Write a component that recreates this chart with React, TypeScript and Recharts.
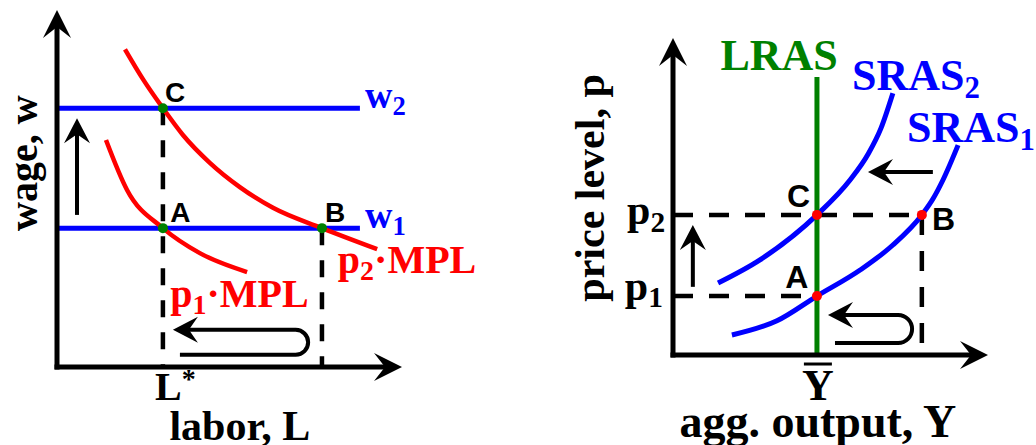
import React from 'react';
import { ComposedChart, XAxis, YAxis, Line, Scatter, ReferenceLine, ReferenceArea, ReferenceDot } from 'recharts';

const RED = '#ff0000';
const BLUE = '#0000ff';
const GREEN = '#008000';
const SERIF = '"Liberation Serif", "Times New Roman", serif';
const SANS = '"Liberation Sans", Arial, sans-serif';

// ---------- labor market (left panel) ----------
const wageLevels = [
  { name: 'w1', w: 3.89 },
  { name: 'w2', w: 7.25 },
];
const wageLineEnd = 8.78;
const laborLevels = [
  { name: 'L*', l: 3.07, top: 7.25 },
  { name: 'B', l: 7.68, top: 3.89 },
];
const mplP1 = [
  { x: 1.42, y: 6.36 },
  { x: 2.03, y: 4.96 },
  { x: 3.07, y: 3.89 },
  { x: 4.14, y: 3.19 },
  { x: 5.51, y: 2.66 },
];
const mplP2 = [
  { x: 1.97, y: 8.9 },
  { x: 2.5, y: 8.05 },
  { x: 3.07, y: 7.25 },
  { x: 3.65, y: 6.5 },
  { x: 4.43, y: 5.72 },
  { x: 5.3, y: 5.04 },
  { x: 6.26, y: 4.46 },
  { x: 7.68, y: 3.89 },
  { x: 9.28, y: 3.3 },
];
const laborPoints = [
  { x: 3.07, y: 7.25 },
  { x: 3.07, y: 3.89 },
  { x: 7.68, y: 3.89 },
];
const laborArrows = [{ from: { x: 0.58, y: 4.26 }, to: { x: 0.58, y: 6.97 } }];
const laborUturn = { x1: 3.36, x2: 7.28, y1: 0.34, y2: 1.04 };

// ---------- aggregate supply (right panel) ----------
const priceLevels = [
  { name: 'p1', p: 1.86, end: 4.57 },
  { name: 'p2', p: 4.42, end: 7.9 },
];
const outputNatural = 4.57;
const outputB = 7.9;
const lrasTop = 8.77;
const sras1 = [
  { x: 1.87, y: 0.63 },
  { x: 3.3, y: 1.08 },
  { x: 4.57, y: 1.86 },
  { x: 5.94, y: 2.68 },
  { x: 6.98, y: 3.47 },
  { x: 7.9, y: 4.42 },
  { x: 8.25, y: 4.92 },
  { x: 8.57, y: 5.52 },
  { x: 9.05, y: 6.62 },
];
const sras2 = [
  { x: 1.43, y: 2.27 },
  { x: 2.76, y: 3.0 },
  { x: 4.57, y: 4.42 },
  { x: 5.62, y: 5.52 },
  { x: 6.2, y: 6.35 },
  { x: 6.6, y: 7.15 },
  { x: 6.98, y: 8.26 },
];
const asPoints = [
  { x: 4.57, y: 1.86 },
  { x: 7.9, y: 4.42 },
  { x: 4.57, y: 4.42 },
];
const asArrows = [
  { from: { x: 8.25, y: 5.77 }, to: { x: 6.19, y: 5.77 } },
  { from: { x: 0.63, y: 2.15 }, to: { x: 0.63, y: 4.1 } },
];
const asUturn = { x1: 4.92, x2: 7.59, y1: 0.38, y2: 1.26 };

type Lbl = {
  x: number;
  y: number;
  text: string;
  sub?: string;
  tail?: string;
  sup?: string;
  color: string;
  size: number;
  sans?: boolean;
  anchor: 'start' | 'middle' | 'end';
  rotate?: boolean;
  bar?: boolean;
};

const laborLabels: Lbl[] = [
  { x: 3.13, y: 7.42, text: 'C', color: '#000', size: 28, sans: true, anchor: 'start' },
  { x: 3.28, y: 4.06, text: 'A', color: '#000', size: 28, sans: true, anchor: 'start' },
  { x: 7.77, y: 4.06, text: 'B', color: '#000', size: 28, sans: true, anchor: 'start' },
  { x: 8.93, y: 7.25, text: 'w', sub: '2', color: BLUE, size: 38, anchor: 'start' },
  { x: 8.93, y: 3.89, text: 'w', sub: '1', color: BLUE, size: 38, anchor: 'start' },
  { x: 8.14, y: 2.63, text: 'p', sub: '2', tail: '\u00b7MPL', color: RED, size: 40, anchor: 'start' },
  { x: 3.28, y: 1.68, text: 'p', sub: '1', tail: '\u00b7MPL', color: RED, size: 40, anchor: 'start' },
  { x: 2.84, y: -0.92, text: 'L', sup: '*', color: '#000', size: 40, anchor: 'start' },
  { x: 5.3, y: -2.04, text: 'labor, L', color: '#000', size: 42, anchor: 'middle' },
  { x: -0.58, y: 5.71, text: 'wage, w', color: '#000', size: 40, anchor: 'middle', rotate: true },
];

const asLabels: Lbl[] = [
  { x: 3.37, y: 8.99, text: 'LRAS', color: GREEN, size: 44, anchor: 'middle' },
  { x: 5.68, y: 8.36, text: 'SRAS', sub: '2', color: BLUE, size: 44, anchor: 'start' },
  { x: 7.43, y: 6.72, text: 'SRAS', sub: '1', color: BLUE, size: 44, anchor: 'start' },
  { x: -0.25, y: 4.13, text: 'p', sub: '2', color: '#000', size: 42, anchor: 'end' },
  { x: -0.32, y: 1.74, text: 'p', sub: '1', color: '#000', size: 42, anchor: 'end' },
  { x: 3.62, y: 4.67, text: 'C', color: '#000', size: 32, sans: true, anchor: 'start' },
  { x: 3.56, y: 2.11, text: 'A', color: '#000', size: 32, sans: true, anchor: 'start' },
  { x: 8.22, y: 3.94, text: 'B', color: '#000', size: 32, sans: true, anchor: 'start' },
  { x: 4.6, y: -1.42, text: 'Y', color: '#000', size: 44, anchor: 'middle', bar: true },
  { x: 4.6, y: -2.59, text: 'agg. output, Y', color: '#000', size: 46, anchor: 'middle' },
  { x: -2.19, y: 5.27, text: 'price level, p', color: '#000', size: 42, anchor: 'middle', rotate: true },
];

function headPoints(tx: number, ty: number, ux: number, uy: number, len: number, half: number, notch: number) {
  const bx = tx - ux * len;
  const by = ty - uy * len;
  const nx = -uy;
  const ny = ux;
  return [
    [tx, ty],
    [bx + nx * half, by + ny * half],
    [tx - ux * notch, ty - uy * notch],
    [bx - nx * half, by - ny * half],
  ]
    .map((p) => p.join(','))
    .join(' ');
}

const arrowShape = (sw: number, len: number, half: number, notch: number, cap: 'square' | 'butt') => (p: any) => {
  const { x1, y1, x2, y2 } = p;
  const d = Math.hypot(x2 - x1, y2 - y1) || 1;
  const ux = (x2 - x1) / d;
  const uy = (y2 - y1) / d;
  const stop = notch - 3;
  return (
    <g>
      <line x1={x1} y1={y1} x2={x2 - ux * stop} y2={y2 - uy * stop} stroke="#000" strokeWidth={sw} strokeLinecap={cap} />
      <polygon points={headPoints(x2, y2, ux, uy, len, half, notch)} fill="#000" />
    </g>
  );
};

const axisArrow = arrowShape(5, 28, 14, 17, 'square');
const smallArrow = arrowShape(4, 25, 13, 16, 'butt');

const uturnShape = (p: any) => {
  const { x, y, width, height } = p;
  const r = height / 2;
  const left = x;
  const right = x + width;
  const top = y;
  const bottom = y + height;
  const d = `M ${left + 7} ${bottom} L ${right - r} ${bottom} A ${r} ${r} 0 0 0 ${right - r} ${top} L ${left + 12} ${top}`;
  return (
    <g>
      <path d={d} fill="none" stroke="#000" strokeWidth={4} />
      <polygon points={headPoints(left, top, -1, 0, 25, 13, 16)} fill="#000" />
    </g>
  );
};

function LabelText({ cx, cy, l }: { cx: number; cy: number; l: Lbl }) {
  const shift = l.size * 0.18;
  return (
    <g>
      <text
        x={cx}
        y={cy}
        fill={l.color}
        fontFamily={l.sans ? SANS : SERIF}
        fontWeight="bold"
        fontSize={l.size}
        textAnchor={l.anchor}
        transform={l.rotate ? `rotate(-90 ${cx} ${cy})` : undefined}
      >
        {l.text}
        {l.sub ? (
          <tspan fontSize={l.size * 0.7} dy={shift}>
            {l.sub}
          </tspan>
        ) : null}
        {l.tail ? <tspan dy={-shift}>{l.tail}</tspan> : null}
        {l.sup ? (
          <tspan fontSize={l.size * 0.7} dy={-l.size * 0.3}>
            {l.sup}
          </tspan>
        ) : null}
      </text>
      {l.bar ? <line x1={cx - 14} x2={cx + 14} y1={cy - 36} y2={cy - 36} stroke={l.color} strokeWidth={3} /> : null}
    </g>
  );
}

const renderLabels = (labels: Lbl[], prefix: string) =>
  labels.map((l, i) => (
    <ReferenceDot
      key={`${prefix}${i}`}
      x={l.x}
      y={l.y}
      r={0}
      ifOverflow="visible"
      shape={(p: any) => <LabelText cx={p.cx} cy={p.cy} l={l} />}
    />
  ));

const dot = (color: string) => (p: any) => <circle cx={p.cx} cy={p.cy} r={5} fill={color} />;

function LaborChart() {
  return (
    <ComposedChart width={500} height={445} margin={{ top: 10, right: 98, bottom: 78, left: 57 }}>
      <XAxis type="number" dataKey="x" domain={[0, 10]} hide />
      <YAxis type="number" domain={[0, 10]} hide />
      {wageLevels.map((w) => (
        <ReferenceLine
          key={w.name}
          segment={[{ x: 0, y: w.w }, { x: wageLineEnd, y: w.w }]}
          stroke={BLUE}
          strokeWidth={5}
          ifOverflow="visible"
        />
      ))}
      {laborLevels.map((l) => (
        <ReferenceLine
          key={l.name}
          segment={[{ x: l.l, y: l.top }, { x: l.l, y: 0 }]}
          stroke="#000"
          strokeWidth={4.5}
          strokeDasharray="17 15"
          ifOverflow="visible"
        />
      ))}
      <Line data={mplP1} dataKey="y" type="monotone" stroke={RED} strokeWidth={4.5} dot={false} activeDot={false} isAnimationActive={false} />
      <Line data={mplP2} dataKey="y" type="monotone" stroke={RED} strokeWidth={4.5} dot={false} activeDot={false} isAnimationActive={false} />
      <Scatter data={laborPoints} dataKey="y" shape={dot(GREEN)} isAnimationActive={false} />
      <ReferenceLine segment={[{ x: 0, y: 0 }, { x: 0, y: 10 }]} ifOverflow="visible" shape={axisArrow} />
      <ReferenceLine segment={[{ x: 0, y: 0 }, { x: 10, y: 0 }]} ifOverflow="visible" shape={axisArrow} />
      {laborArrows.map((a, i) => (
        <ReferenceLine key={`la${i}`} segment={[a.from, a.to]} ifOverflow="visible" shape={smallArrow} />
      ))}
      <ReferenceArea {...laborUturn} ifOverflow="visible" shape={uturnShape} />
      {renderLabels(laborLabels, 'll')}
    </ComposedChart>
  );
}

function SupplyChart() {
  return (
    <ComposedChart width={476} height={445} margin={{ top: 38, right: 48, bottom: 90, left: 113 }}>
      <XAxis type="number" dataKey="x" domain={[0, 10]} hide />
      <YAxis type="number" domain={[0, 10]} hide />
      {priceLevels.map((p) => (
        <ReferenceLine
          key={p.name}
          segment={[{ x: 0, y: p.p }, { x: p.end, y: p.p }]}
          stroke="#000"
          strokeWidth={4.5}
          strokeDasharray="20 16"
          ifOverflow="visible"
        />
      ))}
      <ReferenceLine
        segment={[{ x: outputB, y: priceLevels[1].p }, { x: outputB, y: 0 }]}
        stroke="#000"
        strokeWidth={4.5}
        strokeDasharray="20 16"
        ifOverflow="visible"
      />
      <Line data={sras1} dataKey="y" type="monotone" stroke={BLUE} strokeWidth={5} dot={false} activeDot={false} isAnimationActive={false} />
      <Line data={sras2} dataKey="y" type="monotone" stroke={BLUE} strokeWidth={5} dot={false} activeDot={false} isAnimationActive={false} />
      <ReferenceLine
        segment={[{ x: outputNatural, y: 0 }, { x: outputNatural, y: lrasTop }]}
        stroke={GREEN}
        strokeWidth={5}
        ifOverflow="visible"
      />
      <Scatter data={asPoints} dataKey="y" shape={dot(RED)} isAnimationActive={false} />
      <ReferenceLine segment={[{ x: 0, y: 0 }, { x: 0, y: 10 }]} ifOverflow="visible" shape={axisArrow} />
      <ReferenceLine segment={[{ x: 0, y: 0 }, { x: 10, y: 0 }]} ifOverflow="visible" shape={axisArrow} />
      {asArrows.map((a, i) => (
        <ReferenceLine key={`aa${i}`} segment={[a.from, a.to]} ifOverflow="visible" shape={smallArrow} />
      ))}
      <ReferenceArea {...asUturn} ifOverflow="visible" shape={uturnShape} />
      {renderLabels(asLabels, 'al')}
    </ComposedChart>
  );
}

export default function App() {
  return (
    <div style={{ position: 'absolute', left: 0, top: 0, width: 1036, height: 445, background: '#fff', overflow: 'hidden' }}>
      <div style={{ position: 'absolute', left: 0, top: 0 }}>
        <LaborChart />
      </div>
      <div style={{ position: 'absolute', left: 560, top: 0 }}>
        <SupplyChart />
      </div>
    </div>
  );
}
